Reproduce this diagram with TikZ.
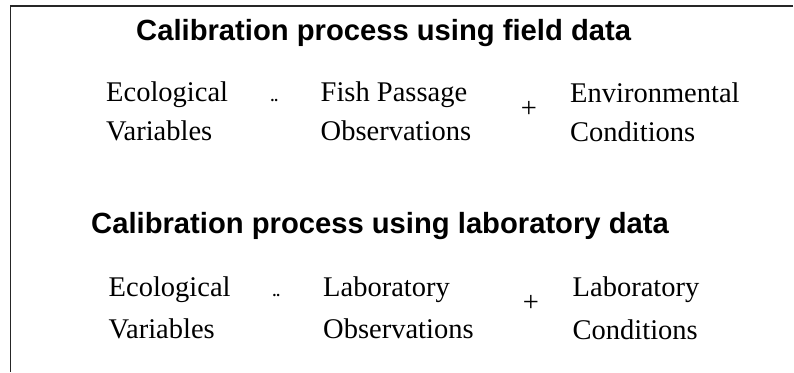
\documentclass[tikz,border=0pt]{standalone}
\usepackage{fontspec}
\setmainfont{Liberation Serif}
\newfontfamily\titlefont{Liberation Sans}
\newcommand\twoline[3]{\vtop{\baselineskip=#3\lineskiplimit=-100pt\hbox{#1}\hbox{#2}}}
\tikzset{
  frameline/.style={draw=black!85, line width=1.2pt},
  heading/.style={anchor=base west, inner sep=0pt, font=\titlefont\bfseries\fontsize{29.2}{34}\selectfont},
  term/.style={anchor=base west, inner sep=0pt, font=\fontsize{28.5}{34}\selectfont},
  dots/.style={anchor=base west, inner sep=0pt, font=\bfseries\fontsize{15}{17}\selectfont},
  plus/.style={anchor=center, inner sep=0pt, font=\fontsize{28.5}{34}\selectfont}
}
\begin{document}
\begin{tikzpicture}[x=1pt,y=1pt]
\useasboundingbox (0,0) rectangle (794,372);
% frame (top and left sides)
\coordinate (fTR) at (793,366);
\coordinate (fTL) at (10.5,366);
\coordinate (fBL) at (10.5,0);
\draw[frameline] (fTR) -- (fTL) -- (fBL);
% field data
\node[heading] (t1) at (136,372-41) {Calibration process using field data};
\node[term] (f1) at (106,372-102) {\twoline{Ecological}{Variables}{39pt}};
\node[dots] (fd) at (270.5,372-102) {..};
\node[term] (f2) at (320.5,372-102) {\twoline{Fish Passage}{Observations}{39pt}};
\node[plus] (fp) at (529,372-109) {+};
\node[term] (f3) at (570,372-102.5) {\twoline{Environmental}{Conditions}{39pt}};
% laboratory data
\node[heading] (t2) at (91,372-234) {Calibration process using laboratory data};
\node[term] (l1) at (108.5,372-296) {\twoline{Ecological}{Variables}{42pt}};
\node[dots] (ld) at (272.5,372-296) {..};
\node[term] (l2) at (323,372-296) {\twoline{Laboratory}{Observations}{42pt}};
\node[plus] (lp) at (531,372-303) {+};
\node[term] (l3) at (572.5,372-296.5) {\twoline{Laboratory}{Conditions}{43pt}};
\end{tikzpicture}
\end{document}
